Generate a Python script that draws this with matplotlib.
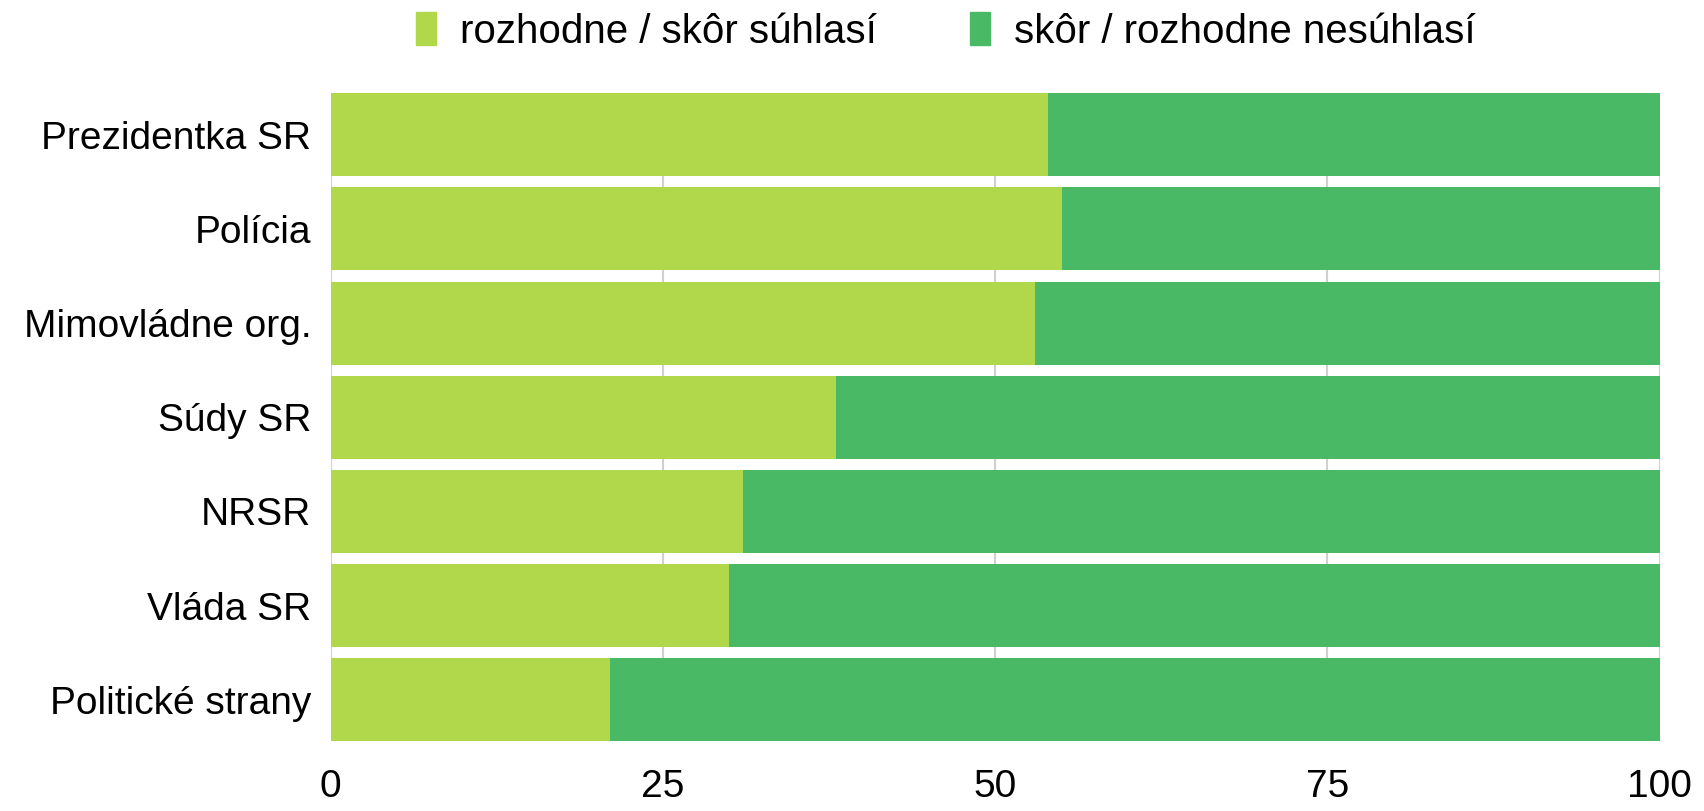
import matplotlib.pyplot as plt
from matplotlib.patches import Patch

categories = ["Prezidentka SR", "Polícia", "Mimovládne org.", "Súdy SR",
              "NRSR", "Vláda SR", "Politické strany"]
agree = [54, 55, 53, 38, 31, 30, 21]
disagree = [100 - a for a in agree]
series_names = ["rozhodne / skôr súhlasí", "skôr / rozhodne nesúhlasí"]
colors = ["#B1D84A", "#4AB966"]
x_ticks = [0, 25, 50, 75, 100]

plt.rcParams['font.family'] = ['Liberation Sans', 'DejaVu Sans']

fig = plt.figure(figsize=(17.04, 8.11), dpi=100)
ax = fig.add_axes([0.194, 0.086, 0.780, 0.799])

y = list(range(len(categories)))[::-1]
ax.barh(y, agree, height=0.88, color=colors[0], zorder=2)
ax.barh(y, disagree, left=agree, height=0.88, color=colors[1], zorder=2)

ax.set_xlim(0, 100)
ax.set_ylim(-0.44, len(categories) - 0.56)
ax.set_xticks(x_ticks)
ax.set_xticklabels([str(t) for t in x_ticks])
ax.set_yticks(y)
ax.set_yticklabels(categories)
ax.tick_params(axis='both', length=0, labelsize=28)
ax.tick_params(axis='x', pad=20)
ax.tick_params(axis='y', pad=14)
ax.xaxis.grid(True, color="#D0D0D0", linewidth=1.5, zorder=0)
for s in ax.spines.values():
    s.set_visible(False)

handles = [Patch(color=c) for c in colors]
fig.legend(handles, series_names, loc='upper center', bbox_to_anchor=(0.555, 1.03),
           ncol=2, frameon=False, fontsize=29, handlelength=0.5, handleheight=0.9,
           columnspacing=2.3, handletextpad=0.6)

fig.savefig("out.png", dpi=100)
